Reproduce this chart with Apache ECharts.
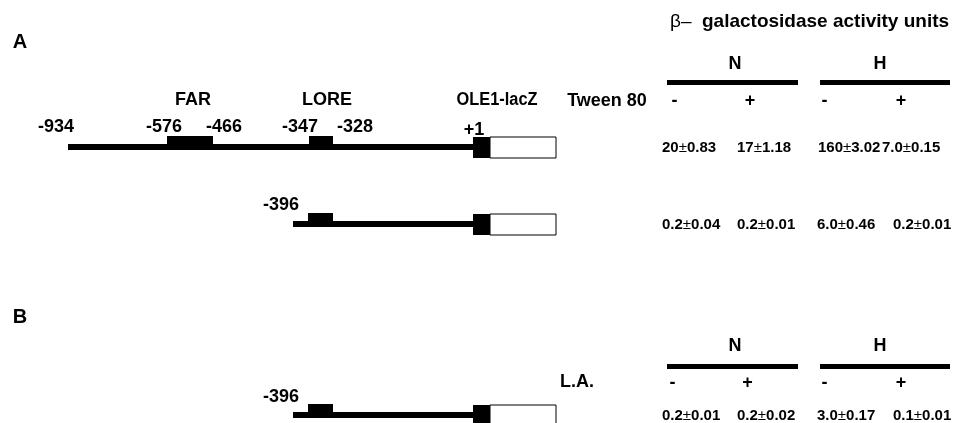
<!DOCTYPE html>
<html><head><meta charset="utf-8">
<script src="https://cdn.jsdelivr.net/npm/echarts@6/dist/echarts.min.js"></script>
<style>html,body{margin:0;padding:0;background:#fff}#c{width:955px;height:423px}</style>
</head><body><div id="c"></div>
<script>
// ---------------- data ----------------
const panels = ['A', 'B'];
const headerSymbol = 'β–';
const headerText = 'galactosidase activity units';
const conditions = ['N', 'H'];
const treatmentA = 'Tween 80';
const treatmentB = 'L.A.';
const signs = ['-', '+', '-', '+'];
const elements = ['FAR', 'LORE'];
const reporter = 'OLE1-lacZ';
const siteLabels = ['-934', '-576', '-466', '-347', '-328', '+1'];
const truncLabel = '-396';
const meansA1 = ['20', '17', '160', '7.0'];
const sdsA1 = ['0.83', '1.18', '3.02', '0.15'];
const meansA2 = ['0.2', '0.2', '6.0', '0.2'];
const sdsA2 = ['0.04', '0.01', '0.46', '0.01'];
const meansB = ['0.2', '0.2', '3.0', '0.1'];
const sdsB = ['0.01', '0.02', '0.17', '0.01'];

// ---------------- layout (diagram units) ----------------
const FONT = '"Liberation Sans", Arial, Helvetica, sans-serif';
const rowY = [147, 224, 415];
const lineStartX = [68, 293, 293];
const elementBoxX = [[[167, 213], [309, 333]], [[308, 333]], [[308, 333]]];
const repBlack = [473, 490];
const repWhite = [490, 556];
const condBarX = [[667, 798], [820, 950]];
const condBarY = [82.5, 366.5];
const condLabelX = [735, 880];
const condLabelY = [64, 346];
const signX = [[674.5, 750, 824.5, 901], [672.5, 747.5, 824.5, 901]];
const signY = [101, 383];
const valueX = [[662, 737, 818, 882], [662, 737, 817, 893], [662, 737, 817, 893]];
const siteX = [56, 164, 224, 300, 355, 474];
const siteY = [127, 127, 127, 127, 127, 130];
const elementLabelX = [193, 327];

// ---------------- shapes ----------------
const shapes = [];
function rect(x0, y0, x1, y1, fill, stroke) { shapes.push({x0, y0, x1, y1, fill, stroke}); }
rowY.forEach((y, r) => {
  rect(lineStartX[r], y - 3, repBlack[0], y + 3, '#000');
  elementBoxX[r].forEach(b => rect(b[0], y - 11, b[1], y + 3, '#000'));
  rect(repWhite[0], y - 10, repWhite[1], y + 11, '#fff', '#000');
  rect(repBlack[0], y - 10, repBlack[1], y + 11, '#000');
});
condBarY.forEach(y => condBarX.forEach(b => rect(b[0], y - 2.5, b[1], y + 2.5, '#000')));

// ---------------- texts ----------------
const texts = [];
function txt(x, y, text, size, align, weight, extra) {
  texts.push(Object.assign({x, y, text, size, align: align || 'center', weight: weight || 'bold'}, extra || {}));
}
txt(670, 22, headerSymbol, 19, 'left', 'normal');
txt(702, 22, headerText, 19, 'left', 'bold');
txt(20, 42, panels[0], 20);
txt(20, 317, panels[1], 20);
condLabelY.forEach(y => conditions.forEach((c, i) => txt(condLabelX[i], y, c, 18)));
txt(607, signY[0], treatmentA, 18);
txt(577, 382, treatmentB, 18);
signY.forEach((y, k) => signs.forEach((s, i) => txt(signX[k][i], y, s, 18)));
elements.forEach((e, i) => txt(elementLabelX[i], 100, e, 18));
txt(497, 100, reporter, 18, 'center', 'bold', {scaleX: 0.91});
siteLabels.forEach((s, i) => txt(siteX[i], siteY[i], s, 18));
txt(281, 205, truncLabel, 18);
txt(281, 397, truncLabel, 18);
[[meansA1, sdsA1], [meansA2, sdsA2], [meansB, sdsB]].forEach((pair, r) => {
  pair[0].forEach((m, i) => txt(valueX[r][i], rowY[r] + 1, '{b|' + m + '}{p|±}{b|' + pair[1][i] + '}', 15, 'left', 'bold', {rich: true}));
});

const chart = echarts.init(document.getElementById('c'), null, {renderer: 'canvas'});
chart.setOption({
  animation: false,
  backgroundColor: '#fff',
  grid: {left: 0, right: 0, top: 0, bottom: 0},
  xAxis: {type: 'value', min: 0, max: 955, show: false},
  yAxis: {type: 'value', min: 0, max: 423, inverse: true, show: false},
  series: [
    {
      type: 'custom',
      data: shapes.map(s => [s.x0, s.y0, s.x1, s.y1]),
      encode: {x: [0, 2], y: [1, 3]},
      renderItem: function (params, api) {
        const s = shapes[params.dataIndex];
        const p0 = api.coord([api.value(0), api.value(1)]);
        const p1 = api.coord([api.value(2), api.value(3)]);
        return {
          type: 'rect',
          shape: {x: p0[0], y: Math.min(p0[1], p1[1]), width: p1[0] - p0[0], height: Math.abs(p1[1] - p0[1])},
          style: {fill: s.fill, stroke: s.stroke || null, lineWidth: s.stroke ? 1 : 0}
        };
      }
    },
    {
      type: 'custom',
      data: texts.map(t => [t.x, t.y]),
      encode: {x: 0, y: 1},
      renderItem: function (params, api) {
        const t = texts[params.dataIndex];
        const p = api.coord([api.value(0), api.value(1)]);
        const style = {
          text: t.text, fill: '#000', align: t.align, verticalAlign: 'middle',
          font: t.weight + ' ' + t.size + 'px ' + FONT
        };
        if (t.rich) {
          style.rich = {
            b: {font: 'bold ' + t.size + 'px ' + FONT, fill: '#000'},
            p: {font: 'normal ' + t.size + 'px ' + FONT, fill: '#000'}
          };
        }
        return {type: 'text', x: p[0], y: p[1], scaleX: t.scaleX || 1, style: style};
      }
    }
  ]
});
</script>
</body></html>
